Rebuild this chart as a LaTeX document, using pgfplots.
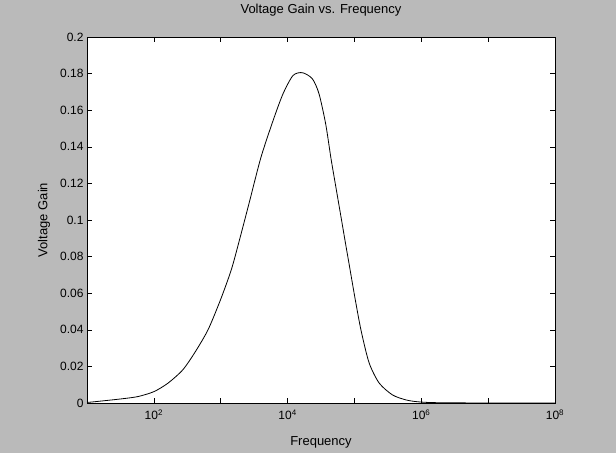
\documentclass[border=0pt]{standalone}
\usepackage{pgfplots}
\pgfplotsset{compat=1.18}
\usepackage{fontspec}
\setmainfont{Liberation Sans}
\begin{document}
\begin{tikzpicture}
\fill[black!27] (0pt,0pt) rectangle (616pt,453pt);
\begin{axis}[
  at={(87pt,50pt)}, anchor=south west,
  width=468pt, height=366pt, scale only axis,
  xmode=log, xmin=10, xmax=1e8, ymin=0, ymax=0.2,
  axis background/.style={fill=white},
  xtick={10,100,1000,1e4,1e5,1e6,1e7,1e8},
  xticklabels={,10\textsuperscript{2},,10\textsuperscript{4},,10\textsuperscript{6},,10\textsuperscript{8}},
  xminorticks=false, yminorticks=false,
  ytick={0,0.02,0.04,0.06,0.08,0.1,0.12,0.14,0.16,0.18,0.2},
  yticklabels={0,0.02,0.04,0.06,0.08,0.1,0.12,0.14,0.16,0.18,0.2},
  tick align=inside, major tick length=5pt,
  tick style={black, line width=0.6pt},
  axis line style={black, line width=0.9pt},
  every tick label/.append style={font=\fontsize{12}{14}\selectfont},
  xticklabel style={anchor=center, yshift=-12pt},
  title={Voltage Gain vs. Frequency},
  title style={at={(axis description cs:0.5,1.058)}, anchor=center, font=\fontsize{13}{15}\selectfont},
  xlabel={Frequency},
  xlabel style={at={(axis description cs:0.5,-0.107)}, anchor=center, font=\fontsize{13}{15}\selectfont},
  ylabel={Voltage Gain},
  ylabel style={at={(axis description cs:-0.092,0.5)}, anchor=center, font=\fontsize{13}{15}\selectfont},
]
\addplot[black, line width=0.8pt, smooth, tension=0.45] coordinates {
(10,0.0003) (13.03,0.0007) (31.6,0.0022) (57.5,0.0035) (100,0.0062)
(162,0.0108) (269,0.018) (407,0.0274) (646,0.040) (1000,0.0567)
(1445,0.073) (1905,0.089) (2692,0.110) (3981,0.134) (6026,0.154)
(8511,0.1688) (12023,0.1789) (16596,0.1805) (23442,0.1772) (29512,0.1690)
(37154,0.1525) (44668,0.1335) (52481,0.1185) (63096,0.1015) (74131,0.0865)
(83176,0.0760) (102329,0.0570) (125893,0.0395) (165959,0.0219) (234423,0.0109)
(371535,0.0044) (588844,0.0017) (870964,0.0007) (1584893,0.0002) (1e7,0) (1e8,0)
};
\end{axis}
\end{tikzpicture}
\end{document}
